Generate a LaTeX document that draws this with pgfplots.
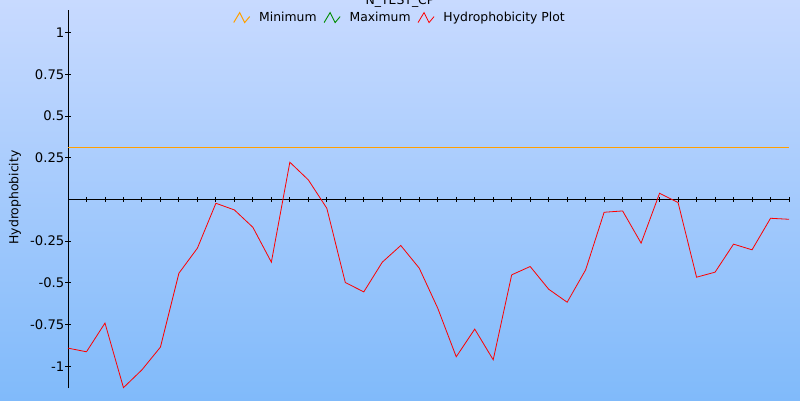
\documentclass[border=0pt]{standalone}
\usepackage{pgfplots}
\pgfplotsset{compat=1.18}
\usepackage{fontspec}
\setmainfont{DejaVu Sans}
\definecolor{bgtop}{RGB}{200,218,255}
\definecolor{bgbot}{RGB}{128,186,250}
\definecolor{minorange}{RGB}{255,160,0}
\definecolor{maxgreen}{RGB}{0,140,0}
\pgfplotstableread{
x y
0 -0.891
1 -0.913
2 -0.741
3 -1.128
4 -1.021
5 -0.885
6 -0.442
7 -0.292
8 -0.023
9 -0.063
10 -0.167
11 -0.376
12 0.223
13 0.117
14 -0.053
15 -0.498
16 -0.554
17 -0.376
18 -0.276
19 -0.412
20 -0.652
21 -0.943
22 -0.777
23 -0.961
24 -0.452
25 -0.402
26 -0.538
27 -0.616
28 -0.422
29 -0.077
30 -0.069
31 -0.262
32 0.037
33 -0.019
34 -0.466
35 -0.436
36 -0.268
37 -0.302
38 -0.113
39 -0.119
}\hydro
\begin{document}
\begin{tikzpicture}
\path[use as bounding box] (0pt,0pt) rectangle (800pt,400pt);
\clip (0pt,0pt) rectangle (800pt,400pt);
\shade[top color=bgtop, bottom color=bgbot] (0pt,0pt) rectangle (800pt,400pt);
\begin{axis}[
  at={(68pt,12pt)}, anchor=south west,
  scale only axis, width=721pt, height=378pt,
  xmin=0, xmax=39, ymin=-1.13, ymax=1.135,
  axis x line*=middle, axis y line*=left,
  axis line style={black, line width=0.9pt},
  xtick={0,...,39}, xticklabel=\empty,
  ytick={-1,-0.75,-0.5,-0.25,0.25,0.5,0.75,1},
  yticklabels={-1,-0.75,-0.5,-0.25,0.25,0.5,0.75,1},
  tick align=center, major tick length=5pt,
  tick style={black, line width=0.9pt},
  font=\fontsize{12.4}{14}\selectfont,
  yticklabel style={font=\fontsize{13.2}{15}\selectfont, inner sep=1pt},
  ylabel={Hydrophobicity},
  ylabel style={at={(axis description cs:-0.0735,0.504)}, anchor=center, font=\fontsize{12.4}{14}\selectfont},
  title={N\_TEST\_CP},
  title style={at={(axis description cs:0.4605,0.9980)}, anchor=base, yshift=0pt, inner sep=0pt, font=\fontsize{12.4}{14}\selectfont},
  legend columns=3,
  legend style={at={(axis description cs:0.4605,0.980)}, anchor=center, draw=none, fill=none, inner sep=0pt,
    font=\fontsize{12.4}{14}\selectfont,
    /tikz/every odd column/.append style={column sep=7pt},
    /tikz/every even column/.append style={column sep=5pt}},
  legend image code/.code={\draw[#1] (0pt,-5pt) -- (6pt,5pt) -- (11pt,-5pt) -- (16pt,1pt);},
  clip=false,
]
\addplot[minorange, line width=1pt, no marks] coordinates {(0,0.31) (39,0.31)};
\addlegendentry{Minimum}
\addlegendimage{maxgreen, line width=0.9pt}
\addlegendentry{Maximum}
\addplot[red, line width=0.8pt, no marks] table[x=x,y=y] {\hydro};
\addlegendentry{Hydrophobicity Plot}
\end{axis}
\end{tikzpicture}
\end{document}
